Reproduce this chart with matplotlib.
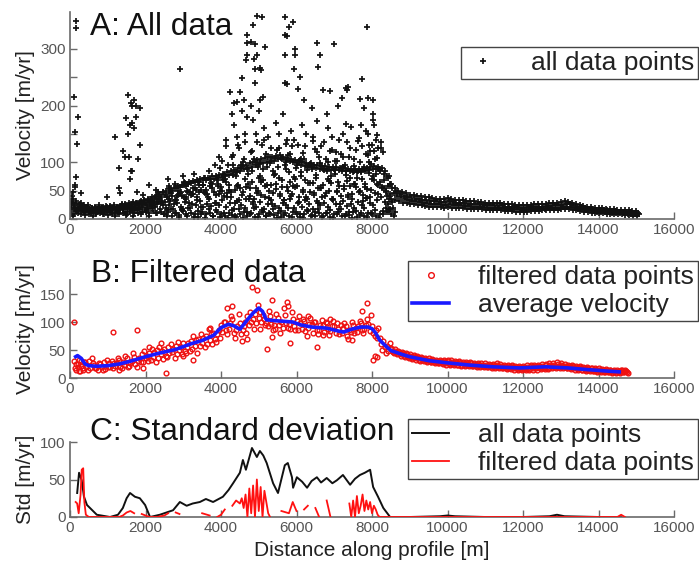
import numpy as np
import matplotlib
matplotlib.use("Agg")
import matplotlib.pyplot as plt

plt.rcParams['font.family'] = ['Liberation Sans', 'DejaVu Sans']
nan = np.nan

# ---------------- Panel A data (all data points) ----------------
x_near = np.arange(0, 8500, 100)      # 0 .. 8400 m sample positions
x_far = np.arange(8500, 15100, 100)   # 8500 .. 15000 m sample positions

a_low1 = [12,8,10,9,7,8,6,9,10,8,7,9,11,8,10,9,12,10,11,13,12,10,14,11,13,
          8,12,5,10,7,14,6,11,9,4,13,8,10,6,12,9,
          5,11,7,3,9,12,6,10,4,8,13,5,9,7,11,3,10,6,12,8,4,9,14,7,5,11,6,10,3,8,12,5,9,7,13,4,10,6,11,8,5,9,14,12]
a_low2 = [22,18,17,15,16,14,15,17,16,18,17,19,20,18,21,22,23,21,24,26,25,27,29,30,32,
          20,25,18,28,22,30,19,26,24,31,21,27,23,29,25,33,
          22,28,17,31,24,19,35,26,21,30,18,27,33,23,20,29,25,36,19,28,22,34,26,17,31,24,29,21,35,27,18,32,23,26,20,30,24,37,28,25,33,38,30,26]
a_low3 = [35,28,24,22,20,19,21,20,22,21,23,24,22,25,27,28,30,29,31,33,35,38,40,44,47,
          38,45,33,50,41,36,48,44,39,52,46,35,55,42,49,40,
          45,38,52,33,47,56,40,35,50,43,58,37,46,53,41,34,49,44,57,39,51,36,48,42,55,38,45,50,34,47,41,53,39,44,56,49,43,37,52,46,60,55,50,44]
a_main1 = [30,25,22,20,18, 17,16,16,15,16,17, 18,18,19,20,21, 22,24,25,27,28, 30,32,35,38,42,
           46,50,54,57,60, 62,63,65,66,68, 69,70,71,72,74, 75,78,80,82,85, 88,90,92,95,97,
           98,100,102,103,105, 106,104,102,100,98, 96,94,92,91,90, 89,88,88,87,86,
           86,85,85,84,84, 83,83,84,86,88, 88,85,80,72]
a_main2 = [40,32,26,23,21, 20,19,18,19,20,21, 21,22,23,24,25, 27,29,30,32,34, 36,39,43,47,50,
           53,55,58,60,63, 66,67,69,70,72, 73,75,76,78,80, 82,84,87,90,93, 96,99,101,104,106,
           108,110,109,111,112, 110,108,106,104,103, 100,98,97,96,95, 94,93,92,92,91,
           90,90,89,89,88, 88,89,90,92,93, 92,90,84,76]
a_mid1 = [15,20,14,18,13,12,14,13,12,14,15,13,16,15,17,18,19,17,20,22,20,23,25,27,28,
          30,35,40,33,45,38,50,42,55,47,60,52,58,48,62,57,
          70,60,95,75,55,105,80,65,100,72,88,60,110,78,92,68,100,82,58,95,76,105,64,88,72,98,60,85,75,102,66,90,78,58,94,72,85,62,100,70,80,65,55,40]
a_mid2 = [28,14,19,25,22,11,18,24,19,23,12,21,17,23,13,25,16,27,18,29,17,31,22,35,24,
          15,32,26,42,17,38,29,55,34,21,47,39,62,28,44,68,
          38,48,28,60,42,35,55,30,45,65,38,50,27,62,44,33,57,40,70,30,48,38,63,45,29,55,41,67,35,50,26,58,43,36,61,47,32,53,39,68,44,57,48,35]
a_mid3 = [5,16,28,12,24,20,10,22,8,12,19,6,13,26,7,14,5,15,8,16,6,19,10,17,9,
          5,18,10,3,16,8,20,4,14,9,2,17,6,15,3,11,
          2,15,6,18,1,13,8,20,3,16,5,11,17,2,14,7,19,4,12,9,1,16,6,13,18,3,10,15,2,8,17,5,12,1,14,7,19,3,11,16,2,8,20,18]
a_up1 = [nan,nan,45,nan,nan,nan,nan,nan,nan,38,nan,nan,55,nan,nan,70,nan,48,nan,nan,60,nan,52,nan,nan,
         70,nan,62,nan,75,58,nan,80,66,nan,72,85,nan,68,90,77,
         95,110,82,125,100,88,118,105,92,130,115,98,84,122,108,95,112,128,90,104,117,86,99,124,110,93,106,120,88,102,115,96,109,83,121,100,92,113,97,105,89,118,76,62]
a_up2 = [nan,60,nan,nan,nan,nan,nan,nan,nan,nan,nan,nan,nan,45,nan,nan,85,nan,nan,42,nan,nan,nan,48,nan,
         nan,55,nan,40,nan,65,47,nan,52,60,nan,44,63,nan,58,50,
         65,52,78,58,90,70,62,84,55,76,68,92,60,80,72,57,88,66,74,59,82,69,95,63,77,54,86,71,64,79,58,91,67,73,61,85,70,56,81,75,62,87,68,58]
a_up3 = [nan,nan,nan,nan,nan,nan,nan,nan,nan,nan,nan,nan,nan,nan,110,150,200,180,130,nan,nan,nan,nan,nan,nan,
         nan,nan,nan,nan,nan,nan,nan,nan,nan,nan,nan,nan,nan,nan,110,nan,
         140,nan,165,130,190,150,nan,175,135,210,160,145,nan,170,125,185,140,155,nan,130,165,150,nan,138,172,128,nan,160,145,118,nan,150,135,162,nan,142,128,155,nan,120,148,135,nan,nan]
a_up4 = [nan,nan,nan,nan,nan,nan,nan,nan,nan,nan,nan,nan,nan,nan,nan,nan,nan,nan,nan,nan,nan,nan,nan,nan,nan,
         nan,58,nan,nan,48,nan,nan,44,nan,nan,60,nan,nan,95,nan,102,
         128,nan,112,145,95,135,nan,120,150,98,140,nan,125,108,150,nan,132,115,140,nan,105,128,nan,145,118,nan,135,100,122,nan,140,110,nan,126,105,138,nan,115,130,nan,108,125,nan,nan]

a_tail1 = [62,55,50,47,45,43, 42,41,40,39,38, 37,36,36,35,37, 36,34,33,33,32, 31,31,30,30,29,
           29,28,28,29,27, 26,26,25,25,24, 25,25,26,26,27, 27,28,28,29,30, 32,30,28,26,25,
           23,22,21,20,19, 19,18,17,17,16, 16,15,15,14,14]
a_tail2 = [55,48,44,41,39,38, 36,35,34,33,32, 31,31,30,30,31, 30,29,28,28,27, 27,26,26,25,25,
           24,24,23,24,22, 22,21,21,20,20, 21,21,21,22,22, 23,23,24,24,25, 27,26,24,22,21,
           19,18,17,16,16, 15,15,14,14,13, 13,12,12,11,11]
a_tail3 = [45,41,38,35,33,32, 31,30,29,28,27, 26,26,25,25,26, 25,24,24,23,23, 22,22,21,21,20,
           20,19,19,20,18, 18,17,17,16,16, 17,17,17,18,18, 19,19,20,20,21, 22,21,20,18,17,
           16,15,14,13,13, 12,12,11,11,10, 10,9,9,8,8]
a_tail4 = [35,33,31,29,28,27, 26,25,24,23,22, 22,21,21,20,21, 20,20,19,19,18, 18,17,17,17,16,
           16,15,15,16,14, 14,14,13,13,13, 13,14,14,14,15, 15,16,16,16,17, 18,17,16,15,14,
           13,12,11,11,10, 10,9,9,8,8, 8,7,7,6,6]

a_out_x = [150,170,110,200,130,180,150,120,90,
           1190,1490,1545,1620,1700,1760,1850,1650,1600,1700,1400,1550,1300,1800,1650,
           2914,
           4950,5080,4850,4680,4700,4800,4900,4700,4650,4880,5165,4950,4900,5020,5050,4550,4900,4240,4500,4350,4420,4600,4800,5100,4300,4700,5000,
           5690,5910,5800,5700,5750,5950,5700,5950,5930,6100,5700,5750,6540,6620,6580,6990,6700,6900,7360,6200,6400,6050,7100,6800,
           7870,7740,7310,7350,7200,7680,7900,8030,7790,8030,8030,8050,7300,7700,7900,8100,8000,7950,8150,
           8450,8500,8550,8600,8480,8520,8580]
a_out_y = [350,336,216,179,154,133,74,57,48,
           145,178,219,205,210,200,195,170,165,160,120,110,90,105,85,
           264,
           358,357,342,325,310,312,308,290,280,282,304,290,265,266,262,249,240,224,224,205,207,210,200,215,185,180,190,
           357,348,339,325,322,300,290,290,265,251,240,238,310,290,268,308,227,225,233,210,195,230,200,185,
           339,247,231,228,213,212,214,210,196,185,175,165,168,165,150,140,130,120,125,
           15,8,20,12,40,30,5]

# ---------------- Panel B data (filtered) ----------------
avg_x = [150,200,300,400,500,700,1000,1300,1600,2000,2400,2800,3200,3500,3800,4000,4200,4350,4500,4700,
         4850,5000,5100,5200,5500,5900,6100,6400,6800,7100,7250,7450,7700,7900,8000,8100,8200,8350,8500,8800,
         9000,9500,10000,10600,11200,11900,12600,13200,13700,14300,14550]
avg_v = [38,40,35,25,22,21,22,25,30,38,45,51,61,67,76,90,96,93,87,104,
         116,125,119,104,102,100,95,91,89,84,82,87,91,91,88,80,68,58,49,42,
         38,31,27,23,20,18,20,18,15,12,11]

xb_near = np.arange(100, 8500, 100)    # 100 .. 8400 m
xb_far = np.arange(8500, 14800, 100)   # 8500 .. 14700 m

f_near1 = [30,25,22,28,30,26,18,25,29,20, 30,22,33,28,35,26,38,30,42,35, 45,38,50,42,52,55,47,58,50,62,
           55,66,58,70,62,75,68,80,78,95, 100,88,105,85,98,92,110,100,115,108, 112,98,110,95,108,100,112,96,105,102,
           98,102,90,96,100,86,94,98,84,92, 88,80,92,85,95,83,98,88,96,92, 85,72,66,58]
f_near2 = [18,32,15,20,17,24,15,19,16,26, 18,27,20,23,19,31,25,36,28,40, 33,46,36,48,40,44,52,43,56,48,
           63,52,68,58,72,60,78,70,85,82, 85,98,80,92,78,100,95,105,98,118, 105,92,96,88,95,90,98,88,92,85,
           88,84,96,80,86,95,82,88,92,80, 78,90,75,82,80,92,85,94,84,80, 72,60,55,48]
f_near3 = [25,12,28,15,35,18,27,14,32,19, 26,35,17,40,22,45,20,28,48,30, 52,28,56,34,38,60,35,65,42,45,
           48,75,45,78,55,88,60,65,72,100, 78,110,72,115,85,80,118,88,130,100, 95,120,85,115,80,125,90,118,85,110,
           105,75,108,100,78,104,100,76,102,98, 95,98,70,100,90,102,80,105,112,75, 90,50,45,62]
f_out_x = [100,1140,1770,2540,4820,4950,4160,4300,5350,5750,5780,7870,7740,5030,5210,4560,4700,5830,6540,
           8030,8080,8120,3260,1930,7470,6700,5350,1300,2100,2400,3700,3000,6900,6300,150,200,250,300,350]
f_out_y = [100,82,85,9,162,158,125,128,139,136,128,134,120,87,52,66,70,62,56,
           32,40,38,32,18,68,77,74,15,55,62,90,40,105,110,15,20,12,30,18]
f_far1 = [54,51,48,46,44,42, 41,39,38,36,35, 34,33,33,32,33, 32,31,30,29,29, 28,27,27,26,26,
          25,25,26,25,24, 23,23,22,22,22, 23,23,24,24,25, 25,26,27,28,27, 25,24,23,22,21,
          20,19,18,18,17, 16,16,15,15,14, 15,14]
f_far2 = [49,47,44,42,40,38, 37,35,34,32,31, 30,29,29,28,27, 27,26,26,25,25, 24,23,23,22,22,
          21,21,21,20,20, 19,19,18,18,18, 18,19,19,19,20, 20,21,21,21,21, 20,19,19,18,17,
          16,16,15,15,14, 13,13,12,12,12, 13,12]
f_far3 = [44,42,40,38,36,34, 33,31,30,29,28, 27,26,25,24,24, 23,23,22,22,21, 21,20,20,19,19,
          18,18,17,17,16, 16,15,15,15,14, 15,15,15,16,16, 16,17,17,17,18, 17,16,15,15,14,
          13,12,12,11,11, 10,10,9,9,9, 10,9]
f_far4 = [52,49,46,44,42,40, 39,37,36,34,33, 32,31,31,30,30, 29,28,28,27,27, 26,25,25,24,24,
          23,23,23,22,22, 21,21,20,20,20, 20,21,21,22,22, 23,23,24,25,24, 22,21,21,20,19,
          18,17,17,16,15, 15,14,14,13,13, 14,13]
f_far5 = [46,44,42,40,38,36, 35,33,32,30,29, 28,27,27,26,25, 25,24,24,23,23, 22,22,21,21,20,
          20,19,19,18,18, 17,17,16,16,16, 16,17,17,17,18, 18,19,19,19,19, 18,17,17,16,15,
          14,14,13,13,12, 11,11,10,10,10, 11,10]

# ---------------- Panel C data (standard deviation) ----------------
std_all_x = [190,240,310,370,450,530,710,1060,1270,1400,1500,1590,1720,1850,1990,2120,2380,2730,2910,3090,
             3250,3440,3600,3790,4050,4200,4320,4500,4580,4660,4820,4950,5030,5120,5210,5380,5510,5690,5770,5880,
             5910,6010,6150,6280,6400,6540,6650,6800,6950,7070,7230,7420,7550,7680,7810,7950,8030,8160,8300,8480,
             9000,9800,10000,10200,11000,12000,12700,12900,13100,14000,14600]
std_all_v = [32,59,49,27,16,12,3,0,3,12,25,32,27,25,16,0,3,9,20,15,
             18,20,24,20,27,36,45,59,76,63,92,80,88,82,72,45,32,69,72,53,
             39,53,47,39,48,53,46,52,45,49,56,43,51,56,59,63,40,27,12,0,
             0,1,2,1,0,0,1,3,1,0,0]
std_filt_x = [150,190,230,280,310,350,380,420,500,700,1000,1300,1400,1500,1600,1700,1800,1900,2000,2100,
              2300,2500,2600,2700,2800,2900,3000,3100,3300,3500,3700,3800,3900,4000,4100,4200,4300,4400,4500,4550,
              4600,4650,4700,4750,4800,4850,4900,4950,5000,5050,5100,5150,5200,5250,5300,5400,5600,5800,5900,6000,
              6100,6200,6300,6400,6500,6600,6700,6800,6900,7000,7100,7300,7400,7450,7500,7550,7600,7650,7700,7750,
              7800,7850,7900,7950,8000,8050,8100,8150,8200,8300,8500,14500,14600,14700]
std_filt_v = [20,18,5,30,63,65,20,3,0,0,0,0,2,6,8,5,nan,4,2,0,
              0,2,5,nan,6,4,nan,3,nan,5,2,nan,0,3,10,nan,15,22,18,25,
              12,30,0,38,5,42,0,50,8,40,0,35,20,5,0,nan,8,5,20,8,
              nan,10,15,nan,12,0,nan,22,0,nan,2,nan,18,0,22,0,28,5,15,30,
              8,22,10,20,5,15,10,3,0,0,0,0,3,0]

# ---------------- Figure ----------------
fig = plt.figure(figsize=(6.99, 5.68), dpi=100)
W, H = 699.0, 568.0
def rect(l, t, r, b):
    return [l / W, 1 - b / H, (r - l) / W, (b - t) / H]

axA = fig.add_axes(rect(70, 12, 674, 219))
axB = fig.add_axes(rect(70, 280, 674, 378))
axC = fig.add_axes(rect(70, 442, 674, 517))

spine_col = '#6a6a6a'
tick_col = '#555555'
for ax in (axA, axB, axC):
    for s in ('top', 'right'):
        ax.spines[s].set_visible(False)
    for s in ('left', 'bottom'):
        ax.spines[s].set_color(spine_col)
        ax.spines[s].set_linewidth(1.2)
    ax.tick_params(direction='in', length=5, width=1, colors=spine_col,
                   labelcolor=tick_col, labelsize=11, pad=3)
    ax.set_xlim(0, 16000)
    ax.set_xticks(np.arange(0, 16001, 2000))
    ax.set_xticklabels([str(v) for v in range(0, 16001, 2000)])

# Panel A
mk = dict(linestyle='none', marker='+', color='#111111', markersize=3.8, markeredgewidth=1.25)
offs = [0, 35, 70, 15, 55, 85, 25, 45, 10, 60, 80, 30]
near_tracks = [a_low1, a_low2, a_low3, a_main1, a_main2, a_up1, a_up2, a_up3,
               a_mid1, a_mid2, a_mid3, a_up4]
for k, tr in enumerate(near_tracks):
    axA.plot(x_near + offs[k], tr, **mk)
far_tracks = [a_tail1, a_tail2, a_tail3, a_tail4]
for k, tr in enumerate(far_tracks):
    axA.plot(x_far + offs[k], tr, **mk)
axA.plot(a_out_x, a_out_y, **mk)
axA.plot([], [], label='all data points', **mk)
axA.set_ylim(0, 365)
axA.set_yticks([0, 50, 100, 150, 200, 250, 300])
axA.set_yticklabels(['0', '50', '100', '', '200', '', '300'])
axA.set_ylabel('Velocity [m/yr]', fontsize=15, color='#222222', labelpad=4)

# Panel B
rmk = dict(linestyle='none', marker='o', markerfacecolor='none', markeredgecolor='#ee1111',
           markersize=3.4, markeredgewidth=1.0)
for k, tr in enumerate([f_near1, f_near2, f_near3]):
    axB.plot(xb_near + offs[k], tr, **rmk)
for k, tr in enumerate([f_far1, f_far2, f_far3, f_far4, f_far5]):
    axB.plot(xb_far + offs[k], tr, **rmk)
axB.plot(f_out_x, f_out_y, label='filtered data points', **rmk)
axB.plot(avg_x, avg_v, color='#1a1aff', lw=2.6, label='average velocity')
axB.set_ylim(0, 175)
axB.set_yticks([0, 50, 100, 150])
axB.set_ylabel('Velocity [m/yr]', fontsize=15, color='#222222', labelpad=4)

# Panel C
axC.plot(std_filt_x, std_filt_v, color='#ff1111', lw=1.3, label='filtered data points', zorder=3)
axC.plot(std_all_x, std_all_v, color='#111111', lw=1.4, label='all data points', zorder=2)
axC.set_ylim(0, 100)
axC.set_yticks([0, 50, 100])
axC.set_ylabel('Std [m/yr]', fontsize=15, color='#222222', labelpad=4)
axC.set_xlabel('Distance along profile [m]', fontsize=15, color='#222222', labelpad=4)

# Panel titles
tkw = dict(fontsize=22.8, va='baseline', ha='left', color='#111111')
fig.text(90 / W, 1 - 35 / H, 'A: All data', **tkw)
fig.text(91 / W, 1 - 282 / H, 'B: Filtered data', **tkw)
fig.text(90 / W, 1 - 440 / H, 'C: Standard deviation', **tkw)

# Legends
leg_kw = dict(fontsize=19, frameon=True, fancybox=False, framealpha=1, edgecolor='#444444',
              borderpad=0.15, labelspacing=0.15, handlelength=1.4, handletextpad=1.1,
              borderaxespad=0, loc='upper right', bbox_transform=fig.transFigure)
lA = axA.legend(bbox_to_anchor=(698 / W, 1 - 47 / H), markerscale=1.1, **leg_kw)
hB, lbB = axB.get_legend_handles_labels()
lB = axB.legend(hB, lbB, bbox_to_anchor=(698 / W, 1 - 261 / H), markerscale=1.2, **leg_kw)
hC, lbC = axC.get_legend_handles_labels()
lC = axC.legend([hC[1], hC[0]], [lbC[1], lbC[0]], bbox_to_anchor=(698 / W, 1 - 419 / H), **leg_kw)
for lg in (lA, lB, lC):
    lg.get_frame().set_linewidth(1.0)
    for t in lg.get_texts():
        t.set_color('#222222')

fig.savefig('out.png', dpi=100)
